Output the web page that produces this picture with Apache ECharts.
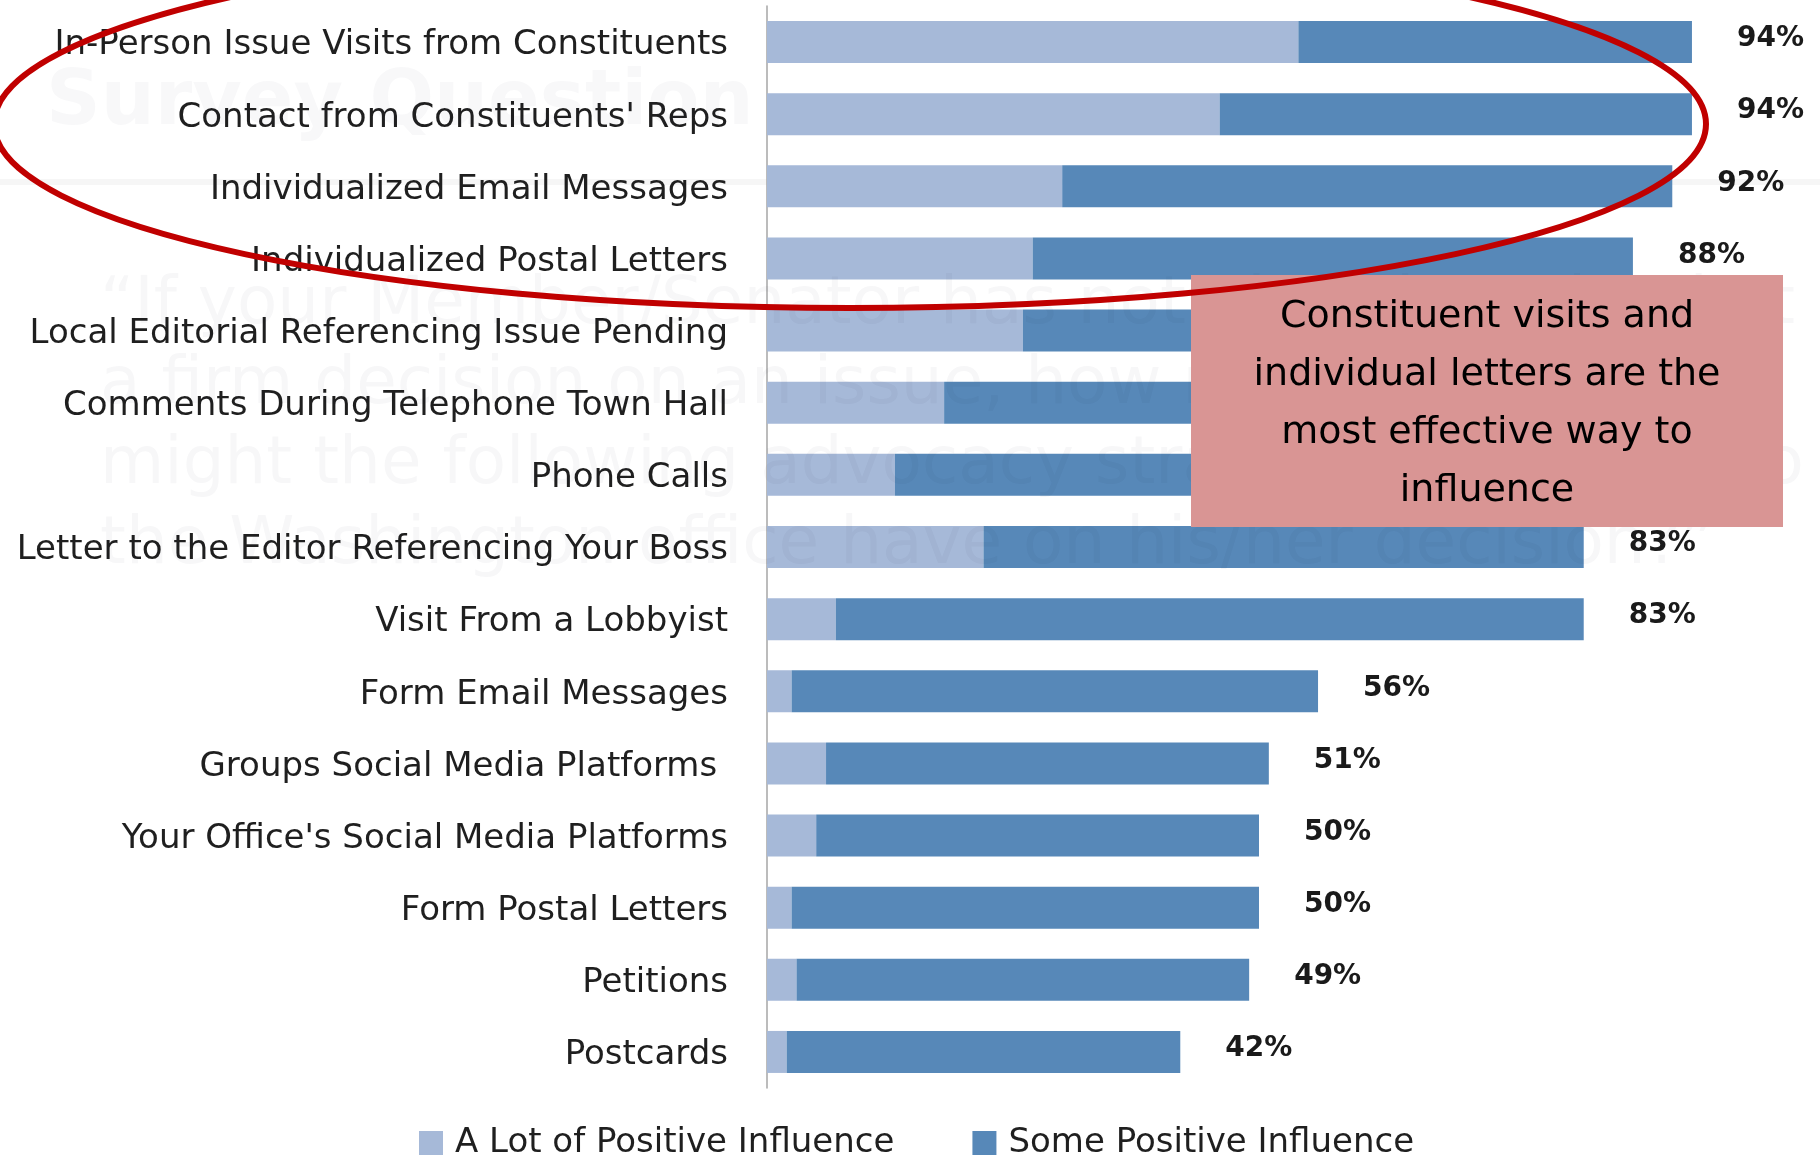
<!DOCTYPE html>
<html>
<head>
<meta charset="utf-8">
<title>Advocacy strategies</title>
<script src="https://cdn.jsdelivr.net/npm/echarts@6/dist/echarts.min.js"></script>
<style>
  html, body { margin: 0; padding: 0; background: #fff; }
  #chart { width: 1820px; height: 1157px; }
</style>
</head>
<body>
<div id="chart"></div>
<script>
// survey rows, top to bottom
const categories = [
  'In-Person Issue Visits from Constituents',
  "Contact from Constituents' Reps",
  'Individualized Email Messages',
  'Individualized Postal Letters',
  'Local Editorial Referencing Issue Pending',
  'Comments During Telephone Town Hall',
  'Phone Calls',
  'Letter to the Editor Referencing Your Boss',
  'Visit From a Lobbyist',
  'Form Email Messages',
  'Groups Social Media Platforms ',
  "Your Office's Social Media Platforms",
  'Form Postal Letters',
  'Petitions',
  'Postcards'
]

// percent of respondents
const aLotValues = [54, 46, 30, 27, 26, 18, 13, 22, 7, 2.5, 6, 5, 2.5, 3, 2]
const someValues = [40, 48, 62, 61, 61, 68, 72, 61, 76, 53.5, 45, 45, 47.5, 46, 40]

const seriesNames = ['A Lot of Positive Influence', 'Some Positive Influence']

const calloutLines = [
  'Constituent visits and',
  'individual letters are the',
  'most effective way to',
  'influence'
]

// faint slide text showing through behind the chart
const ghostTitle = 'Survey Question'
const ghostLines = [
  '\u201CIf your Member/Senator has not already arrived at',
  'a firm decision on an issue, how much influence',
  'might the following advocacy strategies directed to',
  'the Washington office have on his/her decision?\u201D'
]

const FONT = 'DejaVu Sans'

let chart = null

function initChart() {
  chart = echarts.init(document.getElementById('chart'), null, { renderer: 'canvas' })
  setOptions()
}

function setOptions() {
  chart.setOption({
    animation: false,
    backgroundColor: '#ffffff',
    grid: {
      left: 767,
      top: 6,
      width: 984,
      bottom: 69
    },
    legend: {
      data: seriesNames,
      left: 414,
      top: 1121,
      itemWidth: 24,
      itemHeight: 24,
      itemGap: 78,
      icon: 'rect',
      textStyle: {
        fontFamily: FONT,
        fontSize: 34,
        color: '#1f1f1f',
        padding: [0, 0, 0, 7]
      }
    },
    xAxis: {
      type: 'value',
      min: 0,
      max: 100,
      show: false
    },
    yAxis: {
      type: 'category',
      data: categories,
      inverse: true,
      axisTick: { show: false },
      axisLine: {
        show: true,
        lineStyle: { color: '#a6a6a6', width: 1.5 }
      },
      axisLabel: {
        margin: 39,
        formatter: (v) => '{c|' + v + '}',
        rich: {
          c: {
            fontFamily: FONT,
            fontSize: 34,
            color: '#1f1f1f',
            padding: [7, 0, 0, 0]
          }
        }
      }
    },
    graphic: [
      {
        type: 'line',
        z: 0,
        silent: true,
        shape: { x1: 0, y1: 182, x2: 1820, y2: 182 },
        style: { stroke: 'rgba(0,0,0,0.035)', lineWidth: 6 }
      },
      {
        type: 'text',
        z: 3,
        silent: true,
        left: 46,
        top: 66,
        style: {
          text: ghostTitle,
          font: 'bold 76px "DejaVu Sans"',
          fill: 'rgba(20,30,60,0.03)'
        }
      },
      {
        type: 'text',
        z: 3,
        silent: true,
        left: 100,
        top: 266,
        style: {
          text: ghostLines.join('\n'),
          font: '66px "DejaVu Sans"',
          lineHeight: 80,
          fill: 'rgba(20,30,60,0.035)'
        }
      },
      {
        type: 'rect',
        z: 10,
        silent: true,
        shape: { x: 1191, y: 275, width: 592, height: 252 },
        style: { fill: '#d99594' }
      },
      {
        type: 'text',
        z: 11,
        silent: true,
        x: 1487,
        y: 404,
        style: {
          text: calloutLines.join('\n'),
          font: '38px "DejaVu Sans"',
          lineHeight: 58,
          fill: '#000000',
          align: 'center',
          verticalAlign: 'middle'
        }
      },
      {
        type: 'ellipse',
        z: 12,
        silent: true,
        shape: { cx: 850, cy: 124, rx: 856, ry: 184 },
        style: { fill: null, stroke: '#c00000', lineWidth: 6 }
      }
    ],
    series: [
      {
        name: seriesNames[0],
        type: 'bar',
        stack: 'total',
        barWidth: 42,
        itemStyle: { color: '#a6b9d8' },
        data: aLotValues
      },
      {
        name: seriesNames[1],
        type: 'bar',
        stack: 'total',
        barWidth: 42,
        itemStyle: { color: '#5788b8' },
        label: {
          show: true,
          position: 'right',
          distance: 45,
          offset: [0, -3],
          fontFamily: FONT,
          fontWeight: 'bold',
          fontSize: 28,
          color: '#1a1a1a',
          formatter: (p) => (aLotValues[p.dataIndex] + someValues[p.dataIndex]) + '%'
        },
        data: someValues
      }
    ]
  })
}

initChart()
</script>
</body>
</html>
